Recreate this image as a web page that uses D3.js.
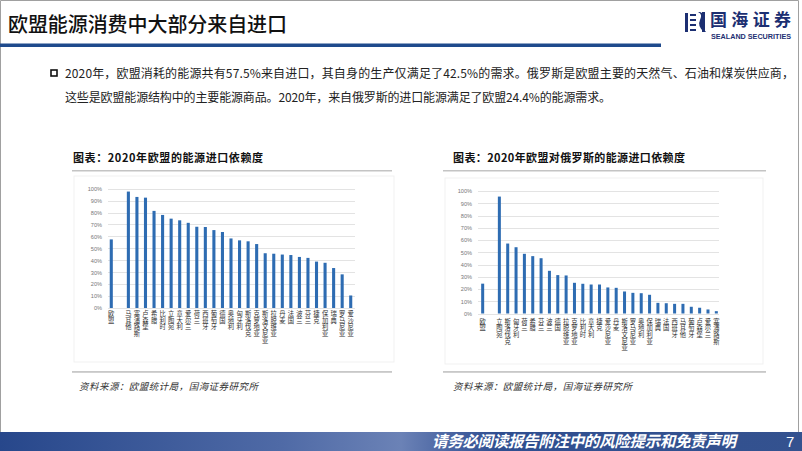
<!DOCTYPE html>
<html><head><meta charset="utf-8">
<script src="https://cdn.jsdelivr.net/npm/d3@7/dist/d3.min.js"></script>
<style>html,body{margin:0;padding:0;background:#fff;}svg{display:block;}</style>
</head><body>
<script>
// ---- data ----
const tickValues = [0,0.1,0.2,0.3,0.4,0.5,0.6,0.7,0.8,0.9,1.0];
const leftCats = ["欧盟","马耳他","塞浦路斯","卢森堡","希腊","比利时","立陶宛","意大利","爱尔兰","荷兰","西班牙","葡萄牙","德国","奥地利","匈牙利","斯洛伐克","克罗地亚","斯洛文尼亚","拉脱维亚","丹麦","法国","波兰","芬兰","捷克","保加利亚","瑞典","罗马尼亚","爱沙尼亚"];
const leftVals = [57.5,97.6,93.1,92.5,81.4,78.0,74.9,73.5,71.4,68.1,67.9,65.3,63.7,58.3,56.7,55.9,53.6,45.9,45.5,44.8,44.4,42.8,42.0,38.9,37.9,33.5,28.2,10.5];
const rightCats = ["欧盟","立陶宛","斯洛伐克","匈牙利","荷兰","希腊","芬兰","波兰","德国","拉脱维亚","克罗地亚","比利时","意大利","捷克","爱沙尼亚","丹麦","斯洛文尼亚","罗马尼亚","奥地利","保加利亚","瑞典","法国","西班牙","马耳他","葡萄牙","卢森堡","爱尔兰","塞浦路斯"];
const rightVals = [24.4,95.6,57.2,54.2,48.8,46.9,45.2,34.9,31.4,31.1,25.1,24.3,23.7,23.7,21.3,21.0,18.0,16.9,16.6,15.3,8.7,8.4,7.9,7.9,5.5,4.7,3.3,1.9];
const pageTitle = "欧盟能源消费中大部分来自进口";
const bodyLine1 = "2020年，欧盟消耗的能源共有57.5%来自进口，其自身的生产仅满足了42.5%的需求。俄罗斯是欧盟主要的天然气、石油和煤炭供应商，";
const bodyLine2 = "这些是欧盟能源结构中的主要能源商品。2020年，来自俄罗斯的进口能源满足了欧盟24.4%的能源需求。";
const leftTitle = "图表：2020年欧盟的能源进口依赖度";
const rightTitle = "图表：2020年欧盟对俄罗斯的能源进口依赖度";
const sourceText = "资料来源：欧盟统计局，国海证券研究所";
const footerText = "请务必阅读报告附注中的风险提示和免责声明";
const pageNum = "7";

const W = 802, H = 451;
const CJK = "'Noto Sans CJK SC','Noto Sans',sans-serif";
const svg = d3.select("body").append("svg").attr("width", W).attr("height", H);
svg.append("rect").attr("width", W).attr("height", H).attr("fill", "#fff");

// slide border
svg.append("path").attr("d", "M0.5,432 V0.5 H798.5 V432").attr("fill","none").attr("stroke","#a0a0a0").attr("stroke-width",1);

// header
svg.append("text").attr("x", 8).attr("y", 32).attr("font-family", CJK).attr("font-size", 20)
  .attr("font-weight", 500).attr("fill", "#111").attr("textLength", 279).text(pageTitle);
svg.append("rect").attr("x", 0).attr("y", 43.5).attr("width", 661).attr("height", 3.5).attr("fill", "#1f4a8c");

// logo
const logo = svg.append("g").attr("fill", "#1c2f72");
logo.append("rect").attr("x",685).attr("y",13).attr("width",3).attr("height",19);
logo.append("path").attr("d","M690,14 h6 v2 h-6z M690,19 h6 v2 h-6z M690,24 h6 v2 h-6z M690,29 h6 v2 h-6z");
logo.append("path").attr("d","M698,12 q5,2 2,8 q-3,6 4,12 h2 q-6,-6 -3,-12 q3,-6 -3,-8z");
logo.append("rect").attr("x",702).attr("y",12).attr("width",3).attr("height",20);
logo.append("text").attr("x", 710).attr("y", 26).attr("font-family", CJK).attr("font-size", 17)
  .attr("font-weight", 700).attr("textLength", 81).text("国海证券");
logo.append("text").attr("x", 711).attr("y", 39).attr("font-family", "'Liberation Sans',Arial,sans-serif")
  .attr("font-size", 6.5).attr("font-weight", 700).attr("textLength", 80).attr("lengthAdjust","spacingAndGlyphs").text("SEALAND SECURITIES");

// body text
svg.append("rect").attr("x", 51).attr("y", 70).attr("width", 6).attr("height", 6)
  .attr("fill", "none").attr("stroke", "#111").attr("stroke-width", 1.6);
svg.append("text").attr("x", 65).attr("y", 78).attr("font-family", CJK).attr("font-size", 12)
  .attr("fill", "#222").attr("textLength", 729).text(bodyLine1);
svg.append("text").attr("x", 65).attr("y", 102).attr("font-family", CJK).attr("font-size", 12)
  .attr("fill", "#222").attr("textLength", 546).text(bodyLine2);

// footer band
const defs = svg.append("defs");
const grad = defs.append("linearGradient").attr("id","fg").attr("x1","0").attr("x2","1").attr("y1","0").attr("y2","0");
[[0,"#27478b"],[0.35,"#4f6aa6"],[0.5,"#6b82b6"],[0.56,"#4a65a2"],[0.62,"#2f4e90"],[1,"#34528f"]].forEach(s=>grad.append("stop").attr("offset",s[0]).attr("stop-color",s[1]));
svg.append("rect").attr("x",0).attr("y",432).attr("width",W).attr("height",H-432).attr("fill","url(#fg)");
svg.append("text").attr("x", 432).attr("y", 447).attr("font-family", CJK).attr("font-size", 15.5)
  .attr("font-style","italic").attr("font-weight",700).attr("fill","#fff").attr("textLength",304)
  .text(footerText);
svg.append("text").attr("x", 786).attr("y", 447).attr("font-family", "'Liberation Sans',Arial,sans-serif").attr("font-size", 15)
  .attr("fill","#fff").text(pageNum);

// panels
function panel(o) {
  const g = svg.append("g");
  g.append("text").attr("x", o.titleX).attr("y", 162).attr("font-family", CJK).attr("font-size", 11)
    .attr("font-weight", 700).attr("fill", "#111").attr("textLength", o.titleLen).text(o.title);
  g.append("rect").attr("x", o.lineX0).attr("y", 170).attr("width", o.lineX1 - o.lineX0).attr("height", 1.5).attr("fill", "#c4c4c4");
  g.append("rect").attr("x", o.lineX0).attr("y", 371).attr("width", o.lineX1 - o.lineX0).attr("height", 1.8).attr("fill", "#c8c8c8");
  g.append("text").attr("x", o.srcX).attr("y", 390).attr("font-family", CJK).attr("font-size", 9.5)
    .attr("font-style","italic").attr("fill", "#333").attr("textLength", 179).text(sourceText);
  g.append("rect").attr("x", o.frame[0]).attr("y", o.frame[1]).attr("width", o.frame[2]).attr("height", o.frame[3])
    .attr("fill","none").attr("stroke","#f1f1f1").attr("stroke-width",1);

  const domain = [o.cats[0], "__gap", ...o.cats.slice(1)];
  const x = d3.scaleBand().domain(domain).range(o.xr).paddingInner(0.64).paddingOuter(0.32);
  const y = d3.scaleLinear().domain([0, 1]).range(o.yr);

  g.append("g").selectAll("line").data(tickValues).join("line")
    .attr("x1", o.gx[0]).attr("x2", o.gx[1]).attr("y1", d => Math.round(y(d)) + 0.5).attr("y2", d => Math.round(y(d)) + 0.5)
    .attr("stroke", "#dcdcdc").attr("stroke-width", 0.8);
  const ax = g.append("g").attr("transform", `translate(${o.gx[0]},0)`)
    .call(d3.axisLeft(y).tickValues(tickValues).tickFormat(d3.format(".0%")).tickSize(0).tickPadding(6));
  ax.select(".domain").remove();
  ax.selectAll("text").attr("font-family", "'Liberation Sans',Arial,sans-serif").attr("font-size", 5.6).attr("fill", "#777");

  g.append("g").selectAll("rect").data(o.cats.map((c, i) => ({c, v: o.vals[i]}))).join("rect")
    .attr("x", d => x(d.c)).attr("width", x.bandwidth())
    .attr("y", d => y(d.v / 100)).attr("height", d => y(0) - y(d.v / 100))
    .attr("fill", "#2e6cb2");

  // vertical category labels (vertical writing mode)
  g.append("g").selectAll("text").data(o.cats).join("text")
    .attr("x", c => x(c) + x.bandwidth() / 2).attr("y", o.labTop)
    .attr("font-family", CJK).attr("font-size", 6.3).attr("fill", "#333")
    .style("writing-mode", "vertical-rl").style("letter-spacing", "0.4px")
    .text(c => c);
}

panel({
  title: leftTitle, titleX: 73, titleLen: 190,
  lineX0: 72, lineX1: 392, srcX: 79,
  frame: [74, 176, 320, 186],
  cats: leftCats, vals: leftVals,
  xr: [107, 355], yr: [308, 188.7], gx: [108, 355],
  labTop: 310.5
});
panel({
  title: rightTitle, titleX: 453, titleLen: 232,
  lineX0: 443, lineX1: 766, srcX: 453,
  frame: [445, 178, 318, 186],
  cats: rightCats, vals: rightVals,
  xr: [478.5, 720.5], yr: [313.5, 191.2], gx: [478, 719],
  labTop: 318
});
</script>
</body></html>
